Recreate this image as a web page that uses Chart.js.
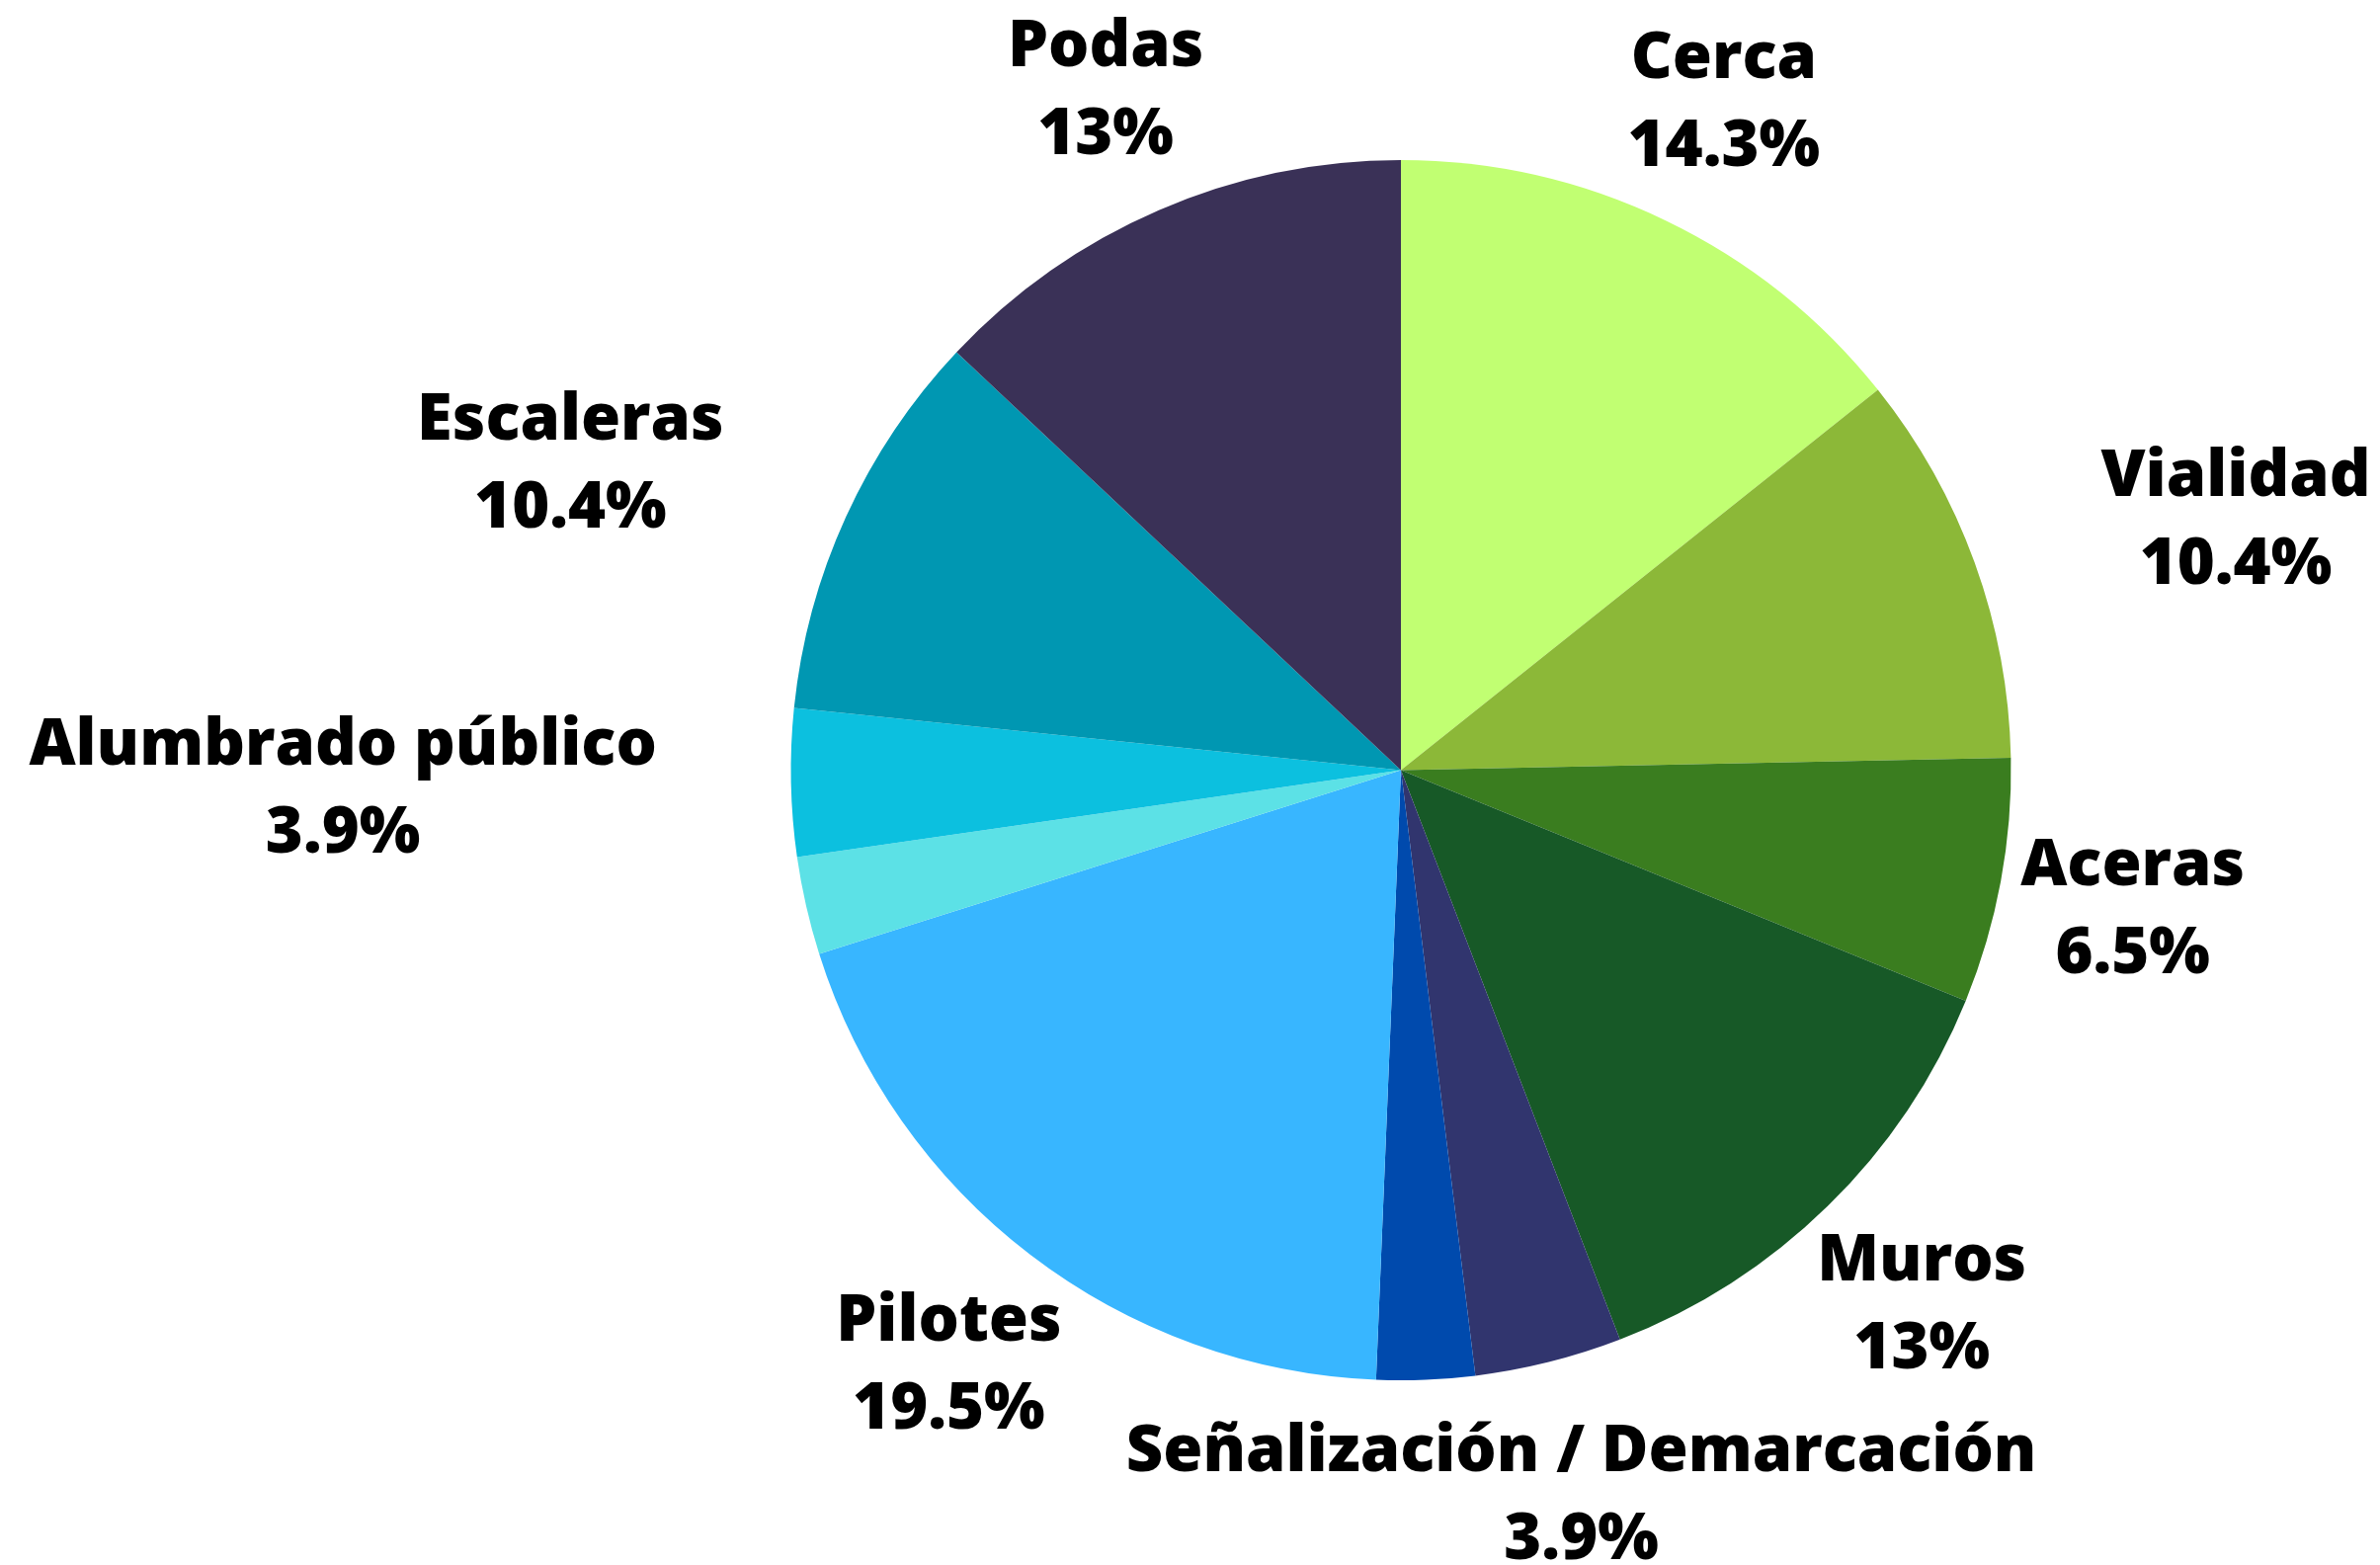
<!DOCTYPE html>
<html>
<head>
<meta charset="utf-8">
<script src="https://cdn.jsdelivr.net/npm/chart.js@4/dist/chart.umd.min.js"></script>
<style>
html,body{margin:0;padding:0;background:#fff;}
#wrap{width:2409px;height:1584px;position:relative;}
</style>
</head>
<body>
<div id="wrap"><canvas id="c" width="2409" height="1584"></canvas></div>
<script>
// Categories clockwise from the top ("" = slice shown without a label)
const categories = ["Cerca","Vialidad","Aceras","Muros","Señalización / Demarcación","","Pilotes","","Alumbrado público","Escaleras","Podas"];
// Counts (share of 77)
const values = [11, 8, 5, 10, 3, 2, 15, 2, 3, 8, 10];
const colors = ["#C1FF72","#8CB838","#3A7D1F","#175927","#31356E","#004AAD","#38B6FF","#5CE1E6","#0CC0DF","#0097B2","#3A3157"];

const total = values.reduce((a,b)=>a+b,0);
function pctText(v){
  const p = Math.round(v/total*1000)/10;
  return (Number.isInteger(p) ? p.toFixed(0) : p.toFixed(1)) + "%";
}

const FONT_SIZE = 65;
const LINE_GAP = 89;
const labelPlugin = {
  id: 'outerLabels',
  afterDraw(chart){
    const ctx = chart.ctx;
    const meta = chart.getDatasetMeta(0);
    ctx.save();
    ctx.font = '800 ' + FONT_SIZE + 'px "Open Sans"';
    ctx.fillStyle = '#000';
    ctx.textBaseline = 'alphabetic';
    const capH = FONT_SIZE * 0.714;
    meta.data.forEach((arc, i) => {
      const name = categories[i];
      if (!name) return;
      const p = arc.getProps(['x','y','startAngle','endAngle','outerRadius'], true);
      const mid = (p.startAngle + p.endAngle) / 2;
      const D = p.outerRadius * 1.22;
      const ax = p.x + D * Math.cos(mid);
      const ay = p.y + D * Math.sin(mid);
      const lines = [name, pctText(values[i])];
      const w = Math.max(...lines.map(t => ctx.measureText(t).width));
      const hh = LINE_GAP/2 + capH/2;
      // centered box; if it intrudes on the pie, align at the anchor outward
      let left = ax - w/2;
      const nx = Math.max(left, Math.min(p.x, left + w));
      const ny = Math.max(ay - hh, Math.min(p.y, ay + hh));
      const dist = Math.hypot(nx - p.x, ny - p.y);
      if (dist < p.outerRadius + 5) {
        left = (ax >= p.x) ? ax : ax - w;
      }
      const cxText = left + w/2;
      ctx.textAlign = 'center';
      ctx.fillText(lines[0], cxText, ay - LINE_GAP/2 + capH/2);
      ctx.fillText(lines[1], cxText, ay + LINE_GAP/2 + capH/2);
    });
    ctx.restore();
  }
};

new Chart(document.getElementById('c'), {
  type: 'pie',
  data: {
    labels: categories,
    datasets: [{
      data: values,
      backgroundColor: colors,
      borderWidth: 0,
      hoverOffset: 0
    }]
  },
  options: {
    responsive: false,
    animation: false,
    layout: { padding: { top: 162, bottom: 187, left: 800, right: 373 } },
    plugins: {
      legend: { display: false },
      tooltip: { enabled: false }
    }
  },
  plugins: [labelPlugin]
});
</script>
</body>
</html>
